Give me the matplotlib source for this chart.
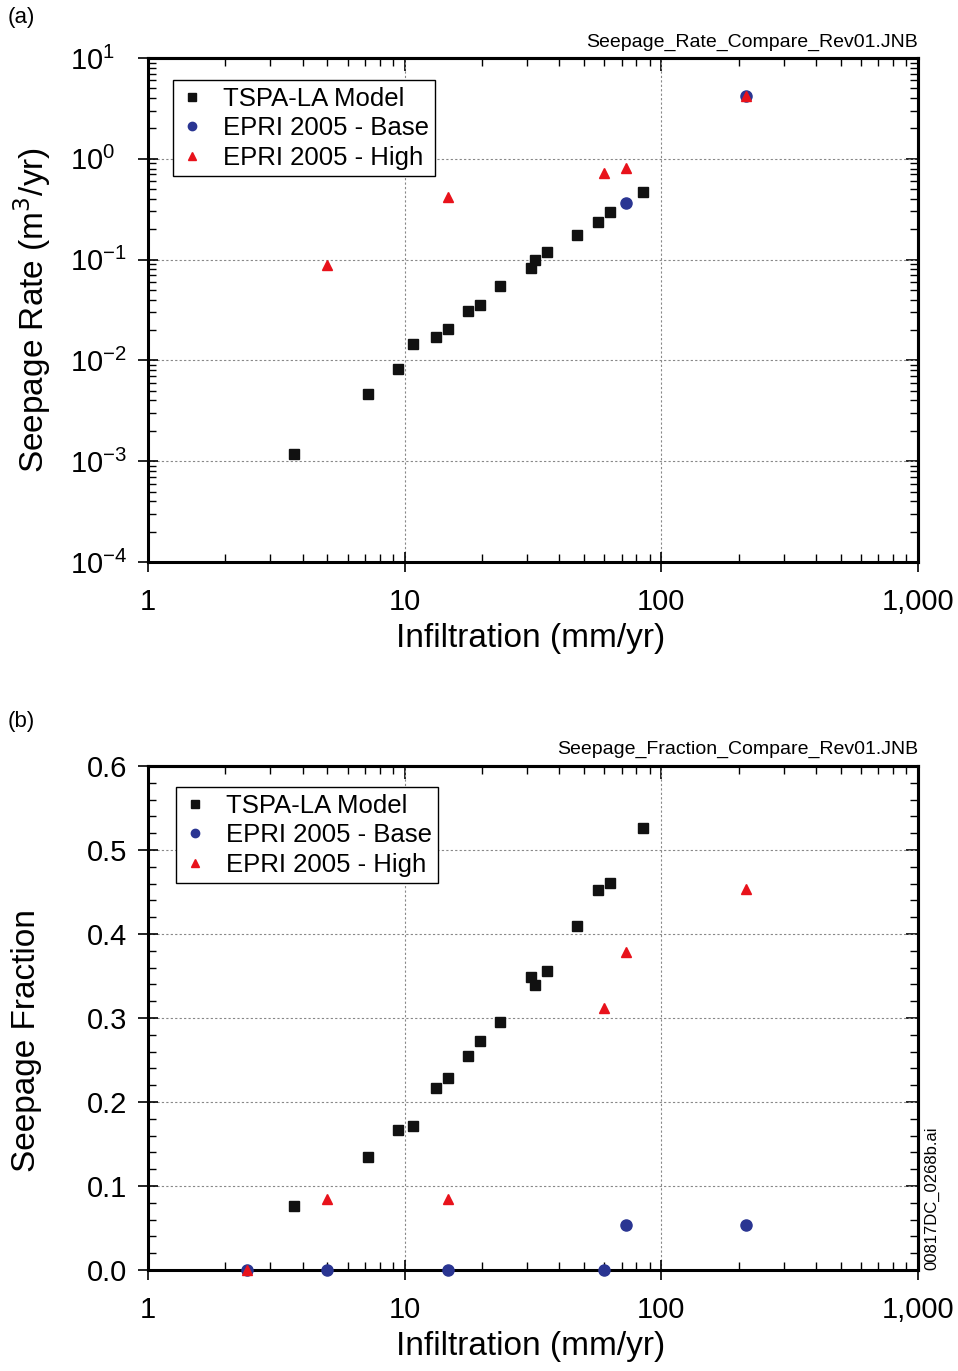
import numpy as np
import matplotlib.pyplot as plt
from matplotlib.ticker import FixedLocator, FuncFormatter, LogLocator, MultipleLocator, NullFormatter

plt.rcParams['font.family'] = ['Liberation Sans', 'DejaVu Sans']

# TSPA-LA model
tspa_infil = [3.69, 7.22, 9.42, 10.8, 13.3, 14.7, 17.7, 19.6, 23.6, 31.1, 32.3, 36.0, 47.0, 56.4, 63.0, 84.8]
tspa_rate = [0.00119, 0.00459, 0.00814, 0.0145, 0.017, 0.0206, 0.0306, 0.0353, 0.0544, 0.082, 0.0985, 0.120, 0.175, 0.238, 0.296, 0.468]
tspa_frac = [0.076, 0.134, 0.167, 0.171, 0.217, 0.228, 0.255, 0.273, 0.295, 0.349, 0.339, 0.356, 0.409, 0.452, 0.461, 0.526]

# EPRI 2005 cases
epri_infil = [2.43, 5.0, 14.7, 59.8, 72.6, 214.0]
base_rate = [0.0, 0.0, 0.0, 0.0, 0.367, 4.24]
base_frac = [0.0, 0.0, 0.0, 0.0, 0.054, 0.054]
high_rate = [0.0, 0.088, 0.414, 0.72, 0.81, 4.24]
high_frac = [0.0, 0.084, 0.084, 0.312, 0.378, 0.454]

blue = '#2a3592'
red = '#e8121b'

fig = plt.figure(figsize=(9.58, 13.71), dpi=100)
ax1 = fig.add_axes([0.1545, 0.5901, 0.8038, 0.3676])
ax2 = fig.add_axes([0.1545, 0.0737, 0.8038, 0.3676])

ident = (lambda v: v, lambda v: v)


def pos(x, y):
    x = np.asarray(x)
    y = np.asarray(y)
    m = y > 0
    return x[m], y[m]


def x_ticks(axis):
    axis.set_major_locator(FixedLocator([1, 10, 100, 1000]))
    axis.set_minor_locator(LogLocator(base=10, subs=np.arange(2, 10)))
    axis.set_minor_formatter(NullFormatter())


def draw(ax, ys, log, leg_top):
    t, b, h = ys
    kw = dict(linestyle='none', clip_on=False, zorder=5)
    if log:
        ax.plot(*pos(tspa_infil, t), marker='s', ms=7.5, color='#111111', label='TSPA-LA Model', **kw)
        ax.plot(*pos(epri_infil, b), marker='o', ms=8, color=blue, label='EPRI 2005 - Base', **kw)
        ax.plot(*pos(epri_infil, h), marker='^', ms=7, color=red, label='EPRI 2005 - High', **kw)
    else:
        ax.plot(tspa_infil, t, marker='s', ms=7.5, color='#111111', label='TSPA-LA Model', **kw)
        ax.plot(epri_infil, b, marker='o', ms=8, color=blue, label='EPRI 2005 - Base', **kw)
        ax.plot(epri_infil, h, marker='^', ms=7, color=red, label='EPRI 2005 - High', **kw)

    ax.set_xscale('log')
    ax.set_xlim(1, 1000)
    x_ticks(ax.xaxis)
    ax.xaxis.set_major_formatter(FuncFormatter(lambda v, p: f'{v:,.0f}'))
    ax.set_xlabel('Infiltration (mm/yr)', fontsize=24)
    ax.xaxis.set_label_coords(0.497, -0.122)

    ax.grid(True, which='major', color='#888888', linestyle=(0, (2, 2)), linewidth=0.8)
    ax.tick_params(which='both', labelsize=21)
    ax.tick_params(which='major', direction='inout', length=14, width=1.2)
    ax.tick_params(which='minor', direction='in', length=6, width=1.0)
    ax.tick_params(axis='x', which='major', pad=12)
    for s in ax.spines.values():
        s.set_linewidth(2.2)

    # top axis: inward ticks only, no labels
    top = ax.secondary_xaxis('top', functions=ident)
    x_ticks(top.xaxis)
    top.xaxis.set_major_formatter(NullFormatter())
    top.tick_params(which='major', direction='in', length=9, width=1.2)
    top.tick_params(which='minor', direction='in', length=6, width=1.0)
    top.spines['top'].set_linewidth(2.2)

    leg = ax.legend(loc='upper left', bbox_to_anchor=leg_top, fontsize=18.5,
                    frameon=True, fancybox=False, edgecolor='black', framealpha=1,
                    handletextpad=0.7, borderpad=0.25, labelspacing=0.22, handlelength=1.0,
                    borderaxespad=0, markerscale=0.75)
    leg.get_frame().set_linewidth(1.0)


def right_axis(ax, major, minor):
    r = ax.secondary_yaxis('right', functions=ident)
    r.yaxis.set_major_locator(major)
    r.yaxis.set_minor_locator(minor)
    r.yaxis.set_major_formatter(NullFormatter())
    r.yaxis.set_minor_formatter(NullFormatter())
    r.tick_params(which='major', direction='in', length=9, width=1.2)
    r.tick_params(which='minor', direction='in', length=6, width=1.0)
    r.spines['right'].set_linewidth(2.2)


draw(ax1, (tspa_rate, base_rate, high_rate), True, (0.032, 0.956))
ax1.set_yscale('log')
ax1.set_ylim(1e-4, 10)
ax1.yaxis.set_minor_locator(LogLocator(base=10, subs=np.arange(2, 10)))
ax1.yaxis.set_minor_formatter(NullFormatter())
ax1.tick_params(axis='y', which='major', pad=49)
for lab in ax1.get_yticklabels():
    lab.set_horizontalalignment('left')
ax1.set_ylabel('Seepage Rate (m$^3$/yr)', fontsize=24)
ax1.yaxis.set_label_coords(-0.123, 0.5)
right_axis(ax1, LogLocator(base=10), LogLocator(base=10, subs=np.arange(2, 10)))

draw(ax2, (tspa_frac, base_frac, high_frac), False, (0.036, 0.958))
ax2.set_ylim(0, 0.6)
ax2.yaxis.set_major_locator(MultipleLocator(0.1))
ax2.yaxis.set_minor_locator(MultipleLocator(0.02))
ax2.yaxis.set_major_formatter(FuncFormatter(lambda v, p: f'{v:.1f}'))
ax2.tick_params(axis='y', which='major', pad=8)
ax2.set_ylabel('Seepage Fraction', fontsize=24)
ax2.yaxis.set_label_coords(-0.138, 0.456)
right_axis(ax2, MultipleLocator(0.1), MultipleLocator(0.02))

fig.text(8 / 958, 1 - 18 / 1371, '(a)', fontsize=16, va='center', ha='left')
fig.text(8 / 958, 1 - 722 / 1371, '(b)', fontsize=16, va='center', ha='left')
fig.text(918 / 958, 1 - 42 / 1371, 'Seepage_Rate_Compare_Rev01.JNB', fontsize=14, va='center', ha='right')
fig.text(918 / 958, 1 - 749 / 1371, 'Seepage_Fraction_Compare_Rev01.JNB', fontsize=14, va='center', ha='right')
fig.text(932 / 958, 1 - 1270 / 1371, '00817DC_0268b.ai', fontsize=12, rotation=90, va='bottom', ha='center')

fig.savefig('out.png', dpi=100)
